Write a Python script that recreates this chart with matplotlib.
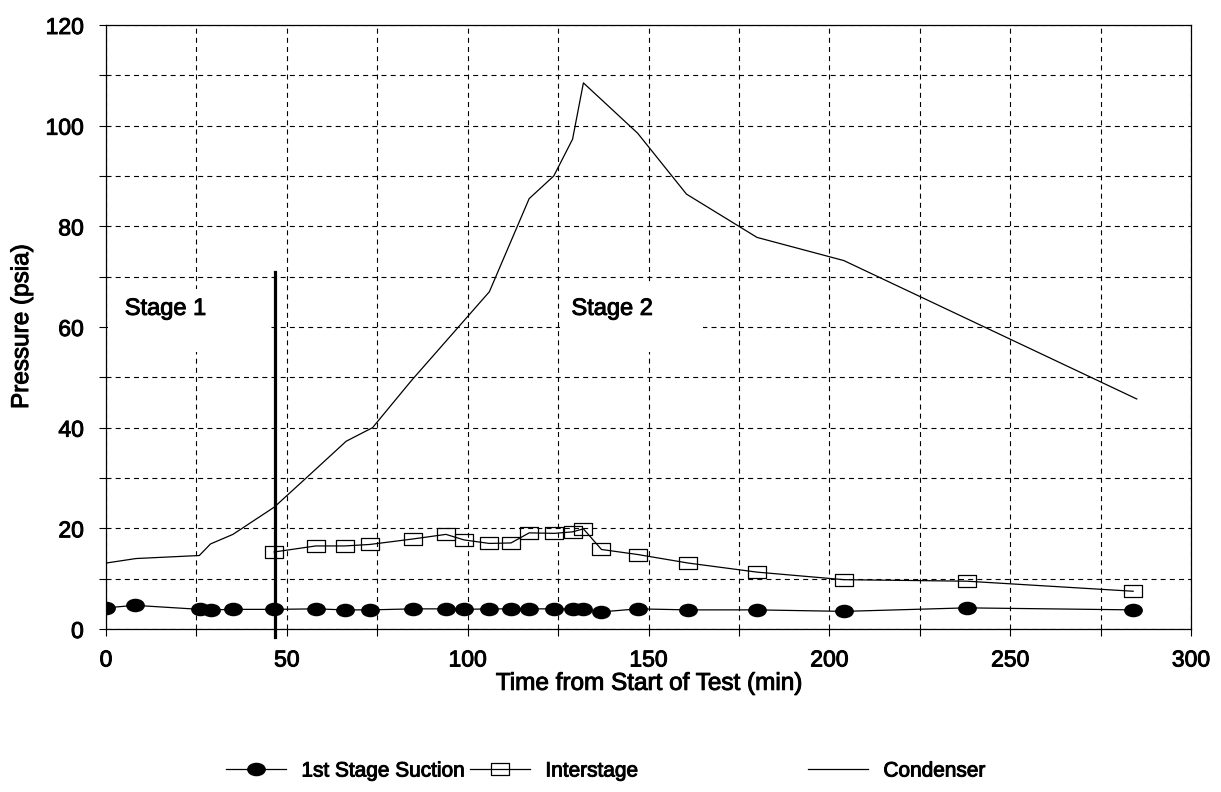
import numpy as np
import matplotlib
matplotlib.use("Agg")
import matplotlib.pyplot as plt
from matplotlib.path import Path
from matplotlib.patches import Rectangle
import matplotlib.transforms as mtransforms
import matplotlib.patheffects as pe

plt.rcParams['font.family'] = ['Liberation Sans', 'DejaVu Sans']
plt.rcParams['font.size'] = 16
plt.rcParams['lines.scale_dashes'] = False

# ---------------- data ----------------
suction_t = [0, 8, 26, 29, 35, 46.5, 58, 66, 73, 85, 94, 99, 106, 112, 117,
             124, 129, 132, 137, 147, 161, 180, 204, 238, 284]
suction_p = [4.2, 4.7, 3.9, 3.8, 3.9, 3.9, 4.0, 3.8, 3.8, 4.0, 4.0, 3.9, 4.0, 4.0, 4.0,
             4.0, 4.0, 4.0, 3.4, 4.0, 3.8, 3.8, 3.5, 4.2, 3.8]

inter_t = [46.5, 58, 66, 73, 85, 94, 99, 106, 112, 117, 124, 129, 132, 137,
           147, 161, 180, 204, 238, 284]
inter_p = [15.3, 16.5, 16.5, 16.8, 17.9, 18.8, 17.7, 17.0, 17.1, 19.1, 19.0, 19.3, 19.9, 15.8,
           14.8, 13.1, 11.3, 9.8, 9.5, 7.5]

cond_t = [0, 8.3, 25.8, 28.9, 35.1, 46.5, 55.8, 66.4, 73.7, 84.5, 106, 117, 123.8,
          129, 132, 147, 160.5, 180, 204, 285]
cond_p = [13.1, 14.0, 14.6, 16.9, 18.8, 24.2, 30.3, 37.3, 40.0, 49.4, 67.0, 85.5, 90.0,
          97.3, 108.5, 98.5, 86.4, 77.8, 73.2, 45.7]

stage_change_t = 46.7
stage_bar = [-1.6, 71.0]
labels = ["1st Stage Suction", "Interstage", "Condenser"]

# ---------------- figure ----------------
W, H = 1221, 792
fig = plt.figure(figsize=(W / 100, H / 100), dpi=100)
ax = fig.add_axes([106 / W, 1 - 629 / H, (1191 - 106) / W, (629 - 25) / H])

ax.set_xlim(0, 300)
ax.set_ylim(0, 120)
ax.set_xticks(np.arange(0, 301, 50))
ax.set_xticks(np.arange(0, 301, 25), minor=True)
ax.set_yticks(np.arange(0, 121, 20))
ax.set_yticks(np.arange(0, 121, 10), minor=True)

dash = (0, (3.6, 3.0))
ax.grid(True, which='both', color='black', linewidth=0.8, linestyle=dash)
ax.set_axisbelow(True)
ax.tick_params(which='both', direction='out', length=5, width=0.8, colors='black')
ax.tick_params(axis='x', which='both', pad=9, labelsize=16.5)
ax.tick_params(axis='y', which='both', pad=11, labelsize=16.5)
for s in ax.spines.values():
    s.set_linewidth(0.9)
    s.set_color('black')

stroke = [pe.withStroke(linewidth=0.7, foreground='black')]

xl = ax.set_xlabel("Time from Start of Test (min)", fontsize=17.5, labelpad=1)
yl = ax.set_ylabel("Pressure (psia)", fontsize=17.5, labelpad=9)

# markers
ell = Path.unit_circle().transformed(mtransforms.Affine2D().scale(1.0, 0.7))
rect = Path([(-1, -0.65), (1, -0.65), (1, 0.65), (-1, 0.65), (-1, -0.65)],
            [Path.MOVETO, Path.LINETO, Path.LINETO, Path.LINETO, Path.CLOSEPOLY])

# white boxes behind stage labels
ax.add_patch(Rectangle((0.5, 55.0), 45.0, 12.5, facecolor='white', edgecolor='none', zorder=1.5))
ax.add_patch(Rectangle((125.5, 55.0), 39.5, 13.5, facecolor='white', edgecolor='none', zorder=1.5))

l1, = ax.plot(suction_t, suction_p, color='black', linewidth=0.9, marker=ell,
              markersize=12.5, markerfacecolor='black', markeredgecolor='black', zorder=3)
l2, = ax.plot(inter_t, inter_p, color='black', linewidth=0.9, marker=rect,
              markersize=13, markerfacecolor='none', markeredgecolor='black',
              markeredgewidth=0.9, zorder=3)
l3, = ax.plot(cond_t, cond_p, color='black', linewidth=0.9, zorder=3)

ax.plot([stage_change_t, stage_change_t], stage_bar, color='black', linewidth=2.3,
        clip_on=False, zorder=4)

t1 = ax.text(5.2, 63.6, "Stage 1", fontsize=17, va='center', ha='left', zorder=5)
t2 = ax.text(128.7, 63.6, "Stage 2", fontsize=17, va='center', ha='left', zorder=5)

texts = [xl, yl, t1, t2] + ax.get_xticklabels() + ax.get_yticklabels()

# legends
yleg = 1 - 771 / H
for line, lab, x0 in [(l1, labels[0], 226), (l2, labels[1], 470), (l3, labels[2], 808)]:
    lg = fig.legend([line], [lab], loc='center left', bbox_to_anchor=(x0 / W, yleg),
                    frameon=False, handlelength=2.9, handletextpad=0.72, borderpad=0,
                    borderaxespad=0, numpoints=1, fontsize=15)
    texts += lg.get_texts()

for t in texts:
    t.set_path_effects(stroke)

fig.savefig("out.png", dpi=100)
